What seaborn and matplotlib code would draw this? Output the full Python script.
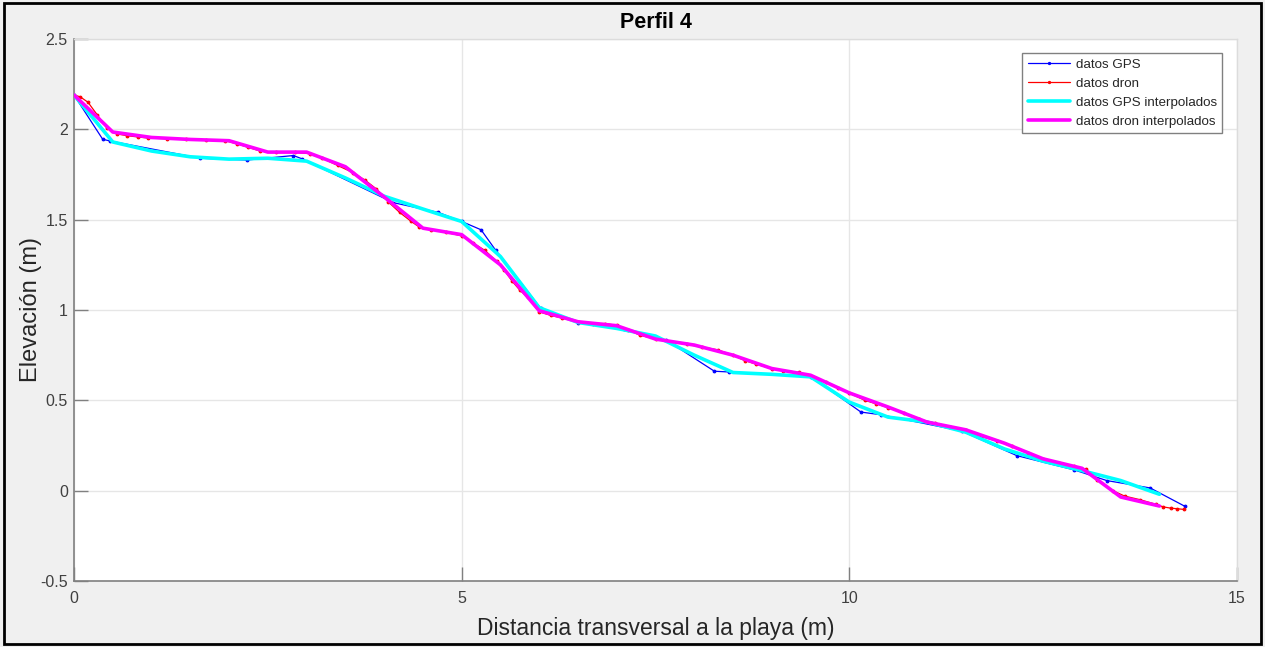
import matplotlib
matplotlib.use("Agg")
import matplotlib.pyplot as plt
import seaborn as sns
import pandas as pd
from matplotlib.patches import Rectangle

# ---- data ----
gps_x = [0.00, 0.37, 0.47, 1.63, 2.23, 2.83, 2.94, 4.12, 4.70, 5.00, 5.25, 5.44,
         6.02, 6.50, 7.10, 7.64, 8.26, 8.45, 9.51, 10.15, 10.41, 11.45, 12.16,
         12.90, 13.32, 13.88, 14.33]
gps_y = [2.19, 1.945, 1.935, 1.84, 1.83, 1.855, 1.837, 1.594, 1.54, 1.49, 1.444, 1.33,
         1.009, 0.93, 0.895, 0.833, 0.661, 0.657, 0.63, 0.435, 0.42, 0.33, 0.194,
         0.115, 0.056, 0.015, -0.087]

dron_x = [0.00, 0.08, 0.18, 0.30, 0.42, 0.55, 0.68, 0.82, 0.95, 1.20, 1.45, 1.70,
          1.95, 2.10, 2.25, 2.40, 2.60, 2.85, 3.05, 3.20, 3.40, 3.60, 3.75, 3.90,
          4.05, 4.20, 4.35, 4.45, 4.60, 4.80, 5.00, 5.15, 5.30, 5.45, 5.55, 5.65,
          5.75, 5.85, 6.00, 6.15, 6.30, 6.50, 6.70, 6.85, 7.00, 7.15, 7.30, 7.50,
          7.70, 7.90, 8.10, 8.30, 8.50, 8.65, 8.80, 9.00, 9.15, 9.35, 9.55, 9.70,
          9.85, 10.00, 10.20, 10.35, 10.50, 10.70, 10.90, 11.10, 11.30, 11.50,
          11.70, 11.90, 12.10, 12.30, 12.50, 12.70, 12.90, 13.05, 13.20, 13.40,
          13.55, 13.75, 13.95, 14.05, 14.15, 14.23, 14.32]
dron_y = [2.19, 2.18, 2.15, 2.08, 2.01, 1.975, 1.965, 1.958, 1.952, 1.948, 1.944, 1.94,
          1.937, 1.92, 1.90, 1.88, 1.872, 1.872, 1.865, 1.84, 1.80, 1.76, 1.72, 1.67,
          1.60, 1.54, 1.49, 1.46, 1.445, 1.43, 1.41, 1.37, 1.33, 1.27, 1.22, 1.16,
          1.11, 1.07, 0.99, 0.97, 0.955, 0.935, 0.925, 0.925, 0.915, 0.89, 0.86, 0.84,
          0.825, 0.81, 0.795, 0.78, 0.75, 0.72, 0.70, 0.675, 0.665, 0.655, 0.625, 0.60,
          0.57, 0.54, 0.50, 0.48, 0.46, 0.43, 0.395, 0.375, 0.355, 0.335,
          0.30, 0.275, 0.245, 0.21, 0.175, 0.155, 0.135, 0.12, 0.06, 0.00,
          -0.03, -0.05, -0.075, -0.09, -0.097, -0.10, -0.104]

grid_x = [0.0, 0.5, 1.0, 1.5, 2.0, 2.5, 3.0, 3.5, 4.0, 4.5, 5.0, 5.5, 6.0, 6.5, 7.0,
          7.5, 8.0, 8.5, 9.0, 9.5, 10.0, 10.5, 11.0, 11.5, 12.0, 12.5, 13.0, 13.5, 14.0]
gps_interp_y = [2.19, 1.93, 1.88, 1.848, 1.835, 1.84, 1.824, 1.731, 1.63, 1.559, 1.49,
                1.296, 1.013, 0.931, 0.898, 0.856, 0.75, 0.654, 0.644, 0.63, 0.49,
                0.407, 0.38, 0.324, 0.231, 0.163, 0.111, 0.056, -0.02]
dron_interp_y = [2.19, 1.985, 1.955, 1.944, 1.937, 1.874, 1.874, 1.793, 1.626, 1.453,
                 1.417, 1.25, 0.996, 0.935, 0.913, 0.839, 0.806, 0.75, 0.676, 0.639,
                 0.541, 0.463, 0.38, 0.337, 0.263, 0.176, 0.124, -0.035, -0.085]

x_ticks = [0, 5, 10, 15]
y_ticks = [-0.5, 0, 0.5, 1, 1.5, 2, 2.5]
y_tick_labels = ['-0.5', '0', '0.5', '1', '1.5', '2', '2.5']

sns.set_style("white")
plt.rcParams['font.family'] = ['Liberation Sans', 'DejaVu Sans']

fig = plt.figure(figsize=(12.65, 6.47), dpi=100)
fig.patch.set_facecolor('#f0f0f0')
ax = fig.add_axes([74 / 1265, 1 - 581 / 647, (1237 - 74) / 1265, (581 - 39) / 647])
ax.set_facecolor('white')

df_gps = pd.DataFrame({'x': gps_x, 'y': gps_y})
df_dron = pd.DataFrame({'x': dron_x, 'y': dron_y})
df_gi = pd.DataFrame({'x': grid_x, 'y': gps_interp_y})
df_di = pd.DataFrame({'x': grid_x, 'y': dron_interp_y})

sns.lineplot(data=df_gps, x='x', y='y', ax=ax, sort=False, estimator=None,
             color='#0000ff', lw=0.9, marker='.', markersize=4, mec='#0000ff',
             label='datos GPS', zorder=3)
sns.lineplot(data=df_dron, x='x', y='y', ax=ax, sort=False, estimator=None,
             color='#ff0000', lw=0.9, marker='.', markersize=4, mec='#ff0000',
             label='datos dron', zorder=3)
sns.lineplot(data=df_gi, x='x', y='y', ax=ax, sort=False, estimator=None,
             color='#00ffff', lw=2.6, label='datos GPS interpolados', zorder=4)
sns.lineplot(data=df_di, x='x', y='y', ax=ax, sort=False, estimator=None,
             color='#ff00ff', lw=2.6, label='datos dron interpolados', zorder=5)

ax.set_xlim(0, 15)
ax.set_ylim(-0.5, 2.5)
ax.set_xticks(x_ticks)
ax.set_yticks(y_ticks)
ax.set_xticklabels([str(t) for t in x_ticks])
ax.set_yticklabels(y_tick_labels)
ax.grid(True, color='#e6e6e6', lw=1)
ax.set_axisbelow(True)
ax.tick_params(bottom=True, left=True, top=False, right=False,
               direction='in', length=10, width=1, color='#808080',
               labelcolor='#404040', labelsize=11.5, pad=4.5)
ax.tick_params(axis='x', pad=7)
for side in ['left', 'bottom']:
    ax.spines[side].set_color('#808080')
    ax.spines[side].set_linewidth(1.2)
for side in ['top', 'right']:
    ax.spines[side].set_color('#dcdcdc')
    ax.spines[side].set_linewidth(1)
    ax.spines[side].set_visible(True)

ax.set_xlabel('Distancia transversal a la playa (m)', fontsize=16.5, color='#262626', labelpad=8)
ax.set_ylabel('Elevación (m)', fontsize=17, color='#262626', labelpad=-1)
ax.set_title('Perfil 4', fontsize=15.5, fontweight='bold', color='black', pad=8)

leg = ax.legend(loc='upper right', bbox_to_anchor=(0.9871, 0.9742), borderaxespad=0,
                fontsize=9.6, frameon=True, fancybox=False, edgecolor='#808080',
                framealpha=1, handlelength=3.2, handletextpad=0.4, labelspacing=0.5,
                borderpad=0.4, markerscale=0.8)
leg.get_frame().set_linewidth(1.0)
for t in leg.get_texts():
    t.set_color('#262626')

fig.patches.append(Rectangle((4 / 1265, 3 / 647), 1257 / 1265, 641 / 647,
                             transform=fig.transFigure, fill=False,
                             edgecolor='black', lw=2))

fig.savefig('out.png', dpi=100, facecolor=fig.get_facecolor())
